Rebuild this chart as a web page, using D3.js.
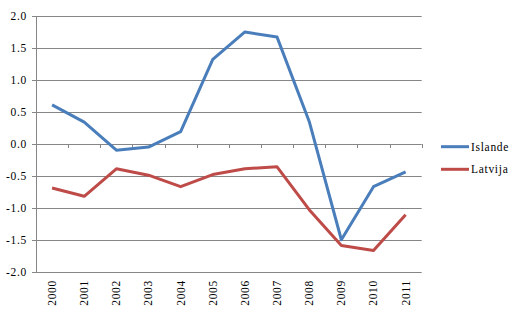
<!DOCTYPE html>
<html><head><meta charset="utf-8">
<script src="https://cdn.jsdelivr.net/npm/d3@7"></script>
<style>body{margin:0;background:#fff}svg{display:block}</style>
</head><body>
<script>
const years = ["2000","2001","2002","2003","2004","2005","2006","2007","2008","2009","2010","2011"];
const islande = [0.61,0.34,-0.10,-0.05,0.19,1.32,1.75,1.67,0.35,-1.50,-0.67,-0.44];
const latvija = [-0.69,-0.82,-0.39,-0.49,-0.67,-0.48,-0.39,-0.36,-1.03,-1.59,-1.67,-1.11];
const yTicks = [2.0,1.5,1.0,0.5,0.0,-0.5,-1.0,-1.5,-2.0];
const seriesNames = ["Islande","Latvija"];
const colors = ["#4a7ebb","#be4b48"];

const W=526,H=317;
const svg=d3.select("body").append("svg").attr("width",W).attr("height",H);
const font="'Liberation Serif','Times New Roman',serif";
const fs=11.5, ls="0.7px";
const x=d3.scaleBand().domain(years).range([36,421.7]);
const y=d3.scaleLinear().domain([-2,2]).range([271.7,16]);

// gridlines
svg.append("g").selectAll("line").data(yTicks).join("line")
  .attr("x1",32).attr("x2",421.7).attr("y1",d=>Math.round(y(d))+0.5).attr("y2",d=>Math.round(y(d))+0.5)
  .attr("stroke","#868686").attr("stroke-width",1);
// y axis line
svg.append("line").attr("x1",36.5).attr("x2",36.5).attr("y1",Math.round(y(2))).attr("y2",Math.round(y(-2))+1)
  .attr("stroke","#868686");
// y labels
svg.append("g").selectAll("text").data(yTicks).join("text")
  .attr("x",27).attr("y",d=>y(d)+4).attr("text-anchor","end")
  .attr("font-family",font).attr("font-size",fs).attr("letter-spacing",ls).attr("fill","#000")
  .text(d=>d.toFixed(1));
// x ticks at band boundaries on zero line
const bounds=years.map(d=>x(d)).concat([x.range()[1]]);
svg.append("g").selectAll("line").data(bounds.slice(1)).join("line")
  .attr("x1",d=>Math.round(d)+0.5).attr("x2",d=>Math.round(d)+0.5)
  .attr("y1",Math.round(y(0))).attr("y2",Math.round(y(0))+4)
  .attr("stroke","#868686");
// x labels
svg.append("g").selectAll("text").data(years).join("text")
  .attr("transform",d=>`translate(${x(d)+x.bandwidth()/2+4},280) rotate(-90)`)
  .attr("text-anchor","end").attr("font-family",font).attr("font-size",fs).attr("letter-spacing",ls).attr("fill","#000")
  .text(d=>d);
// lines
const line=d3.line().x((d,i)=>x(years[i])+x.bandwidth()/2).y(d=>y(d));
[islande,latvija].forEach((s,i)=>{
  svg.append("path").datum(s).attr("d",line).attr("fill","none")
    .attr("stroke",colors[i]).attr("stroke-width",3).attr("stroke-linejoin","round");
});
// legend
const ly=[146.7,169.3];
seriesNames.forEach((n,i)=>{
  svg.append("line").attr("x1",441).attr("x2",469).attr("y1",ly[i]).attr("y2",ly[i])
    .attr("stroke",colors[i]).attr("stroke-width",3);
  svg.append("text").attr("x",471).attr("y",ly[i]+4).attr("font-family",font).attr("font-size",fs)
    .attr("letter-spacing",ls).attr("fill","#000").text(n);
});
</script>
</body></html>
